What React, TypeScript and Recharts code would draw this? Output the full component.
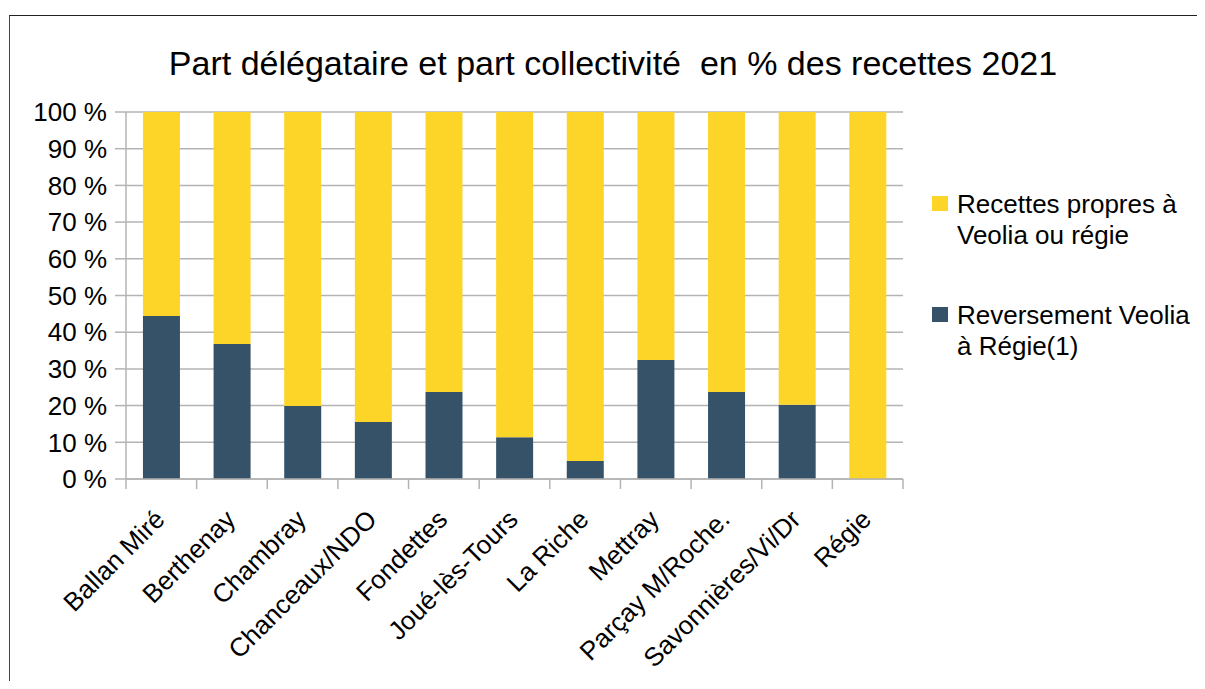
import { BarChart, Bar, XAxis, YAxis, CartesianGrid, Legend } from 'recharts';

const communes = [
  'Ballan Miré',
  'Berthenay',
  'Chambray',
  'Chanceaux/NDO',
  'Fondettes',
  'Joué-lès-Tours',
  'La Riche',
  'Mettray',
  'Parçay M/Roche.',
  'Savonnières/Vi/Dr',
  'Régie',
];

// part reversée à la régie (%)
const reversement = [44.4, 36.8, 19.9, 15.5, 23.7, 11.4, 4.9, 32.4, 23.7, 20.2, 0];
// part propre au délégataire / régie (%)
const recettesPropres = [55.6, 63.2, 80.1, 84.5, 76.3, 88.6, 95.1, 67.6, 76.3, 79.8, 100];

const yTicks = [0, 10, 20, 30, 40, 50, 60, 70, 80, 90, 100];

const FONT = '"Liberation Sans", Arial, sans-serif';
const DARK = '#355269';
const YELLOW = '#FDD428';
const GRID = '#b3b3b3';

const chartData = communes.map((name, i) => ({
  name,
  reversement: reversement[i],
  recettes: recettesPropres[i],
}));

// libellé incliné + traits aux limites des catégories
const XTick = (props: any) => {
  const { x, y, payload, index, width, visibleTicksCount } = props;
  const band = width / visibleTicksCount;
  const isLast = index === visibleTicksCount - 1;
  const tx = x + 5;
  const ty = y + 32;
  return (
    <g>
      <line x1={x - band / 2} x2={x - band / 2} y1={y - 10} y2={y} stroke={GRID} strokeWidth={1.5} />
      {isLast && <line x1={x + band / 2} x2={x + band / 2} y1={y - 10} y2={y} stroke={GRID} strokeWidth={1.5} />}
      <text
        x={tx}
        y={ty}
        transform={`rotate(-45, ${tx}, ${ty})`}
        textAnchor="end"
        fontSize={26}
        fontFamily={FONT}
        fill="#000"
      >
        {payload.value}
      </text>
    </g>
  );
};

const legendItems = [
  { name: 'Recettes propres à Veolia ou régie', color: YELLOW },
  { name: 'Reversement Veolia à Régie(1)', color: DARK },
];

const LegendContent = () => (
  <div style={{ fontFamily: FONT, fontSize: 26, lineHeight: '31px', color: '#000' }}>
    {legendItems.map((item, i) => (
      <div key={item.name} style={{ display: 'flex', alignItems: 'flex-start', marginBottom: i === 0 ? 49 : 0 }}>
        <div style={{ width: 16, height: 15, background: item.color, marginTop: 7, marginRight: 9, flexShrink: 0 }} />
        <div style={{ width: 240 }}>{item.name}</div>
      </div>
    ))}
  </div>
);

export default function App() {
  return (
    <div style={{ position: 'relative', width: 1205, height: 689, margin: -8, overflow: 'hidden', background: '#fff' }}>
      <div
        style={{
          position: 'absolute',
          left: 9,
          top: 15,
          width: 1400,
          height: 900,
          borderTop: '1.5px solid #222',
          borderLeft: '1.5px solid #444',
        }}
      />
      <div
        style={{
          position: 'absolute',
          left: 0,
          width: 1226,
          top: 44,
          textAlign: 'center',
          fontFamily: FONT,
          fontSize: 34,
          whiteSpace: 'pre',
          color: '#000',
        }}
      >
        {'Part délégataire et part collectivité  en % des recettes 2021'}
      </div>
      <div style={{ position: 'absolute', left: 0, top: 0 }}>
        <BarChart
          width={1205}
          height={689}
          data={chartData}
          margin={{ top: 112, right: 302, bottom: 0, left: 0 }}
          barCategoryGap="24%"
        >
          <CartesianGrid vertical={false} stroke={GRID} strokeWidth={1.5} />
          <XAxis
            dataKey="name"
            interval={0}
            height={210}
            axisLine={{ stroke: GRID, strokeWidth: 1.5 }}
            tickLine={false}
            tickSize={10}
            tickMargin={0}
            tick={<XTick />}
          />
          <YAxis
            width={126}
            domain={[0, 100]}
            ticks={yTicks}
            interval={0}
            tickFormatter={(v: number) => `${v} %`}
            tick={{ fontSize: 26, fontFamily: FONT, fill: '#000' }}
            tickSize={11}
            tickMargin={8}
            axisLine={{ stroke: GRID, strokeWidth: 1.5 }}
            tickLine={{ stroke: GRID, strokeWidth: 1.5 }}
          />
          <YAxis
            yAxisId="right"
            orientation="right"
            width={0}
            domain={[0, 100]}
            tick={false}
            tickLine={false}
            axisLine={{ stroke: GRID, strokeWidth: 1.5 }}
          />
          <Legend
            layout="vertical"
            align="center"
            verticalAlign="middle"
            content={<LegendContent />}
            wrapperStyle={{ position: 'absolute', left: 932, top: 189, width: 270 }}
          />
          <Bar dataKey="reversement" stackId="a" fill={DARK} isAnimationActive={false} />
          <Bar dataKey="recettes" stackId="a" fill={YELLOW} isAnimationActive={false} />
        </BarChart>
      </div>
    </div>
  );
}
